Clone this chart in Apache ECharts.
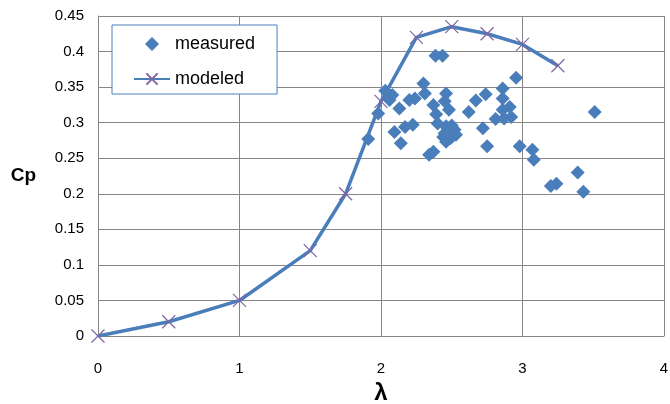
<!DOCTYPE html>
<html>
<head>
<meta charset="utf-8">
<script src="https://cdn.jsdelivr.net/npm/echarts@6/dist/echarts.min.js"></script>
<style>
  html, body { margin: 0; padding: 0; background: #fff; }
  #chart { width: 670px; height: 404px; }
</style>
</head>
<body>
<div id="chart"></div>
<script>
// 模型曲线 (λ, Cp)
var modeledX = [0, 0.5, 1, 1.5, 1.75, 2, 2.25, 2.5, 2.75, 3, 3.25];
var modeledY = [0, 0.02, 0.05, 0.12, 0.2, 0.33, 0.42, 0.435, 0.425, 0.41, 0.38];

// 实测点
var measuredX = [1.91, 1.98, 2.03, 2.06, 2.08, 2.095, 2.13, 2.14, 2.17, 2.20, 2.225, 2.24,
  2.30, 2.31, 2.34, 2.37, 2.37, 2.385, 2.435, 2.39, 2.40, 2.44, 2.45, 2.46, 2.46, 2.47,
  2.48, 2.50, 2.46, 2.48, 2.52, 2.49, 2.53, 2.45, 2.50, 2.62, 2.67, 2.72, 2.74, 2.75,
  2.81, 2.86, 2.86, 2.86, 2.87, 2.91, 2.92, 2.955, 2.98, 3.07, 3.08, 3.20, 3.24, 3.39,
  3.43, 3.51];
var measuredY = [0.277, 0.313, 0.345, 0.332, 0.339, 0.287, 0.320, 0.271, 0.294, 0.332, 0.297, 0.334,
  0.355, 0.341, 0.255, 0.259, 0.325, 0.394, 0.394, 0.312, 0.299, 0.280, 0.330, 0.341, 0.273, 0.292,
  0.318, 0.280, 0.295, 0.290, 0.290, 0.278, 0.283, 0.285, 0.296, 0.315, 0.331, 0.292, 0.340, 0.267,
  0.305, 0.348, 0.334, 0.318, 0.306, 0.322, 0.308, 0.363, 0.267, 0.262, 0.248, 0.211, 0.214, 0.230,
  0.203, 0.315];

var xTicks = ['0', '1', '2', '3', '4'];
var yTicks = ['0', '0.05', '0.1', '0.15', '0.2', '0.25', '0.3', '0.35', '0.4', '0.45'];

function zip(a, b) {
  var out = [];
  for (var i = 0; i < a.length; i++) out.push([a[i], b[i]]);
  return out;
}

var FONT = '"Liberation Sans", Arial, sans-serif';
var BLUE = '#4a7ebb';
var DIAMOND = 'path://M5,0L10,5L5,10L0,5Z';
var CROSS = 'path://M0,0L10,10M10,0L0,10';
var gridLine = { show: true, lineStyle: { color: '#868686', width: 1 } };

var chart = echarts.init(document.getElementById('chart'));
chart.setOption({
  animation: false,
  backgroundColor: '#fff',
  grid: { left: 98, top: 16, right: 6, bottom: 68, containLabel: false, outerBoundsMode: 'none' },
  legend: {
    left: 112, top: 25,
    orient: 'vertical',
    padding: [10, 22, 6, 21],
    itemGap: 17,
    itemWidth: 36, itemHeight: 14,
    symbolKeepAspect: true,
    borderColor: BLUE, borderWidth: 1,
    backgroundColor: '#fff',
    textStyle: { fontFamily: FONT, fontSize: 18, color: '#000' },
    data: [{ name: 'measured', icon: DIAMOND }, { name: 'modeled' }]
  },
  xAxis: {
    type: 'value', min: 0, max: 4, interval: 1,
    name: 'λ', nameLocation: 'middle', nameGap: 36,
    nameTextStyle: { fontFamily: FONT, fontSize: 24, fontWeight: 'bold', color: '#000' },
    axisLine: { show: true, lineStyle: { color: '#868686' } },
    axisTick: { show: false },
    splitLine: gridLine,
    axisLabel: {
      margin: 25, fontFamily: FONT, fontSize: 15, color: '#000',
      formatter: function (v) { return xTicks[Math.round(v)]; }
    }
  },
  yAxis: {
    type: 'value', min: 0, max: 0.45, interval: 0.05,
    name: 'Cp', nameLocation: 'middle', nameGap: 62, nameRotate: 0,
    nameTextStyle: { fontFamily: FONT, fontSize: 19, fontWeight: 'bold', color: '#000' },
    axisLine: { show: true, lineStyle: { color: '#868686' } },
    axisTick: { show: false },
    splitLine: gridLine,
    axisLabel: {
      margin: 14, fontFamily: FONT, fontSize: 15, color: '#000',
      formatter: function (v) { return yTicks[Math.round(v / 0.05)]; }
    }
  },
  series: [
    {
      name: 'measured',
      type: 'scatter',
      symbol: DIAMOND,
      symbolSize: 14,
      itemStyle: { color: BLUE, opacity: 1 },
      data: zip(measuredX, measuredY),
      z: 3
    },
    {
      name: 'modeled',
      type: 'line',
      symbol: CROSS,
      symbolSize: 13,
      showAllSymbol: true,
      lineStyle: { color: BLUE, width: 3.5 },
      itemStyle: { color: 'rgba(0,0,0,0)', borderColor: '#8064a2', borderWidth: 1.2 },
      data: zip(modeledX, modeledY),
      z: 2
    }
  ]
});
</script>
</body>
</html>
